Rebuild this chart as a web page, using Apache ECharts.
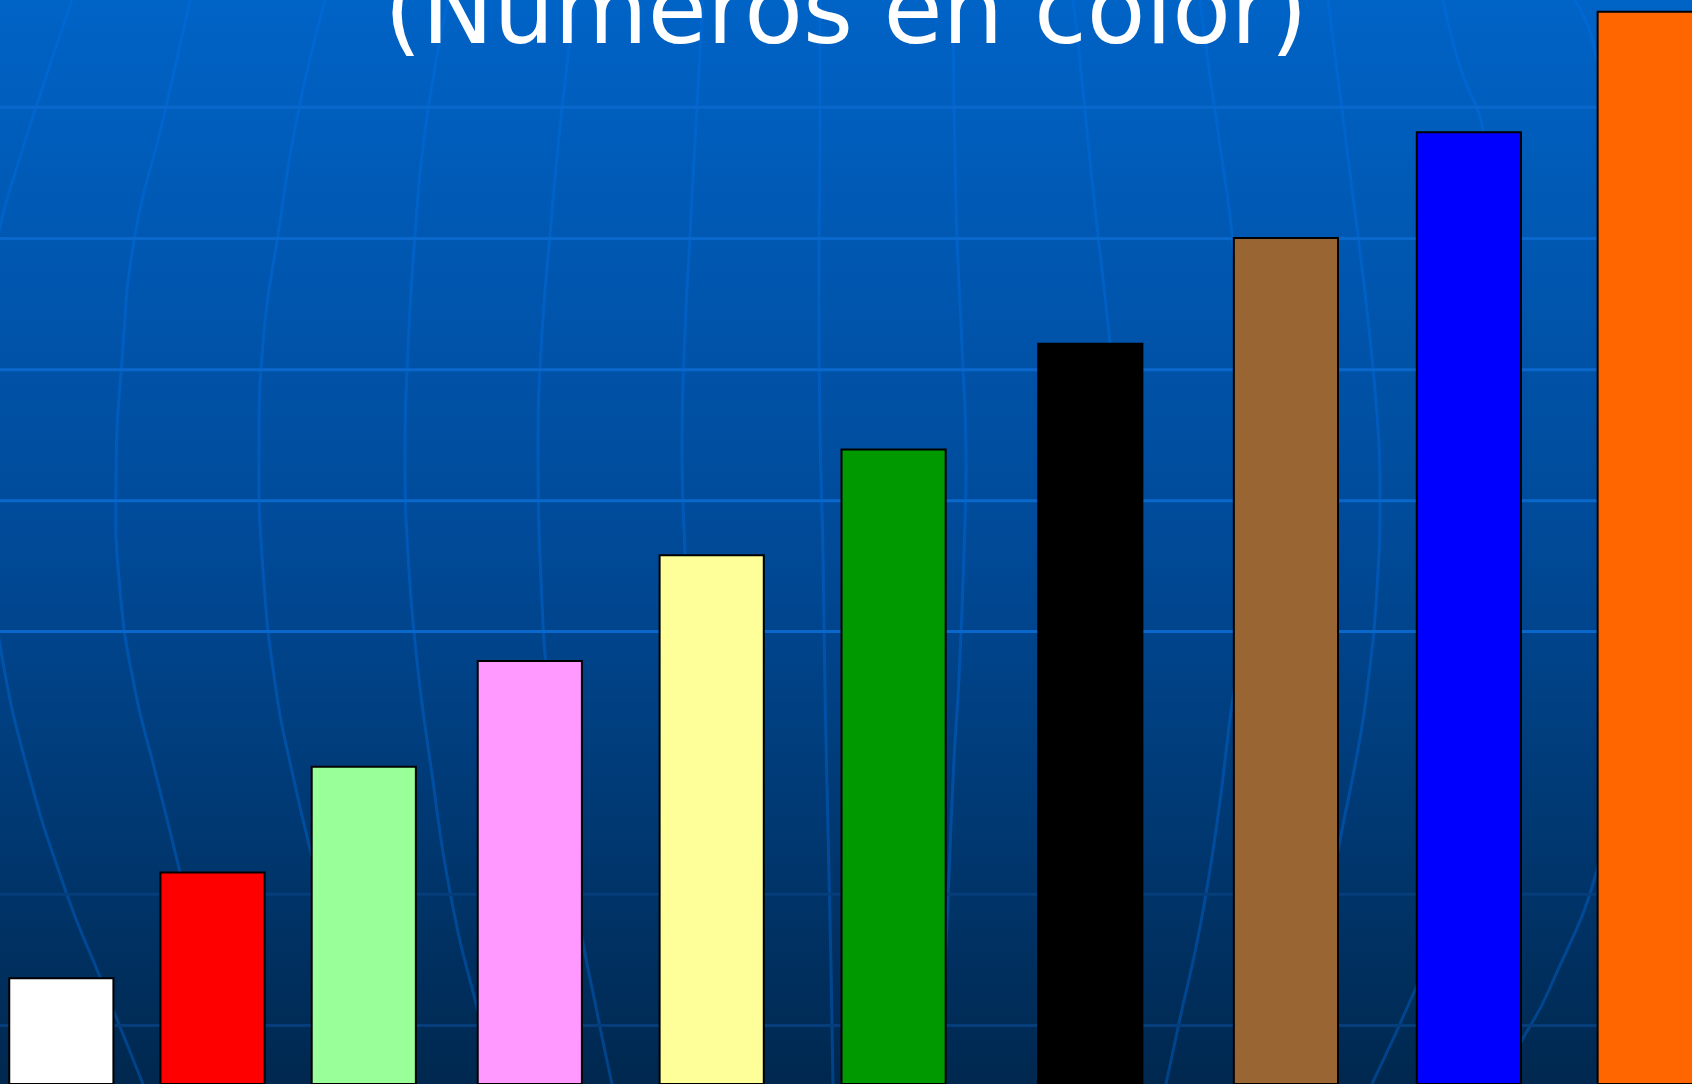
<!DOCTYPE html>
<html lang="es">
<head>
<meta charset="utf-8">
<title>Números en color</title>
<script src="https://cdn.jsdelivr.net/npm/echarts@6/dist/echarts.min.js"></script>
<style>
  html, body { margin: 0; padding: 0; background: #00284f; overflow: hidden; }
  #chart { width: 1692px; height: 1084px; }
</style>
</head>
<body>
<div id="chart"></div>
<script>
// Regletas de Cuisenaire: cada número tiene su color y su longitud en cm
const titulo = '(Números en color)';
const numeros = ['1', '2', '3', '4', '5', '6', '7', '8', '9', '10'];
const nombres = ['blanca', 'roja', 'verde claro', 'rosa', 'amarilla',
                 'verde oscuro', 'negra', 'marrón', 'azul', 'naranja'];
const colores = ['#FFFFFF', '#FF0000', '#99FF99', '#FF99FF', '#FFFF99',
                 '#009900', '#000000', '#996633', '#0000FF', '#FF6600'];
// longitud de cada regleta (cm)
const longitudCm = [1, 2, 3, 4, 5, 6, 7, 8, 9, 10.14];
// dónde está colocada cada regleta sobre la mesa (centro, cm desde la izquierda)
const posicionCm = [0.58, 2.01, 3.44, 5.01, 6.73, 8.45, 10.31, 12.16, 13.89, 15.60];

const ANCHO_CM = 0.985;   // grosor de una regleta

const chart = echarts.init(document.getElementById('chart'), null, { renderer: 'canvas' });
const W = 1692, H = 1084;

// Fondo de la diapositiva: degradado azul con una retícula de globo terráqueo
const paralelos = [107.3, 238.5, 369.8, 500.7, 631.6, 894.2, 1025.4];
const meridianos = [
  [[72,0],[45,80],[17,167],[0,227],[-18,330],[-22,430],[-14,540],[0,645],[25,760],[66,892],[100,977],[143,1084]],
  [[190,0],[162,124],[135,235],[122,360],[116,480],[120,590],[135,690],[154,767],[178,864],[230,1084]],
  [[325,0],[297,118],[278,235],[264,332],[259,450],[263,570],[276,690],[291,767],[313,861],[370,1084]],
  [[448,0],[426,124],[415,235],[408,350],[405,460],[409,570],[418,670],[431,767],[450,892],[477,1007],[500,1084]],
  [[575,0],[561,118],[550,235],[541,350],[538,460],[541,580],[548,690],[560,800],[575,900],[600,1027],[612,1084]],
  [[703,0],[696,124],[690,235],[685,332],[682,450],[685,553],[690,700],[697,850],[705,1084]],
  [[820,0],[820,138],[819,277],[820,429],[823,553],[825,691],[828,830],[831,968],[833,1084]],
  [[953,0],[956,207],[962,346],[966,450],[964,553],[959,678],[954,760],[948,899],[940,1084]],
  [[1073,0],[1078,41],[1093,190],[1110,343],[1125,500],[1130,650],[1120,800],[1100,950],[1080,1084]],
  [[1200,0],[1207,55],[1220,145],[1232,235],[1245,400],[1250,520],[1245,640],[1234,691],[1218,816],[1200,927],[1179,1023],[1166,1084]],
  [[1328,0],[1350,173],[1367,311],[1377,415],[1380,484],[1377,588],[1367,691],[1356,760],[1342,830],[1320,950],[1300,1084]],
  [[1443,0],[1460,67],[1483,130],[1505,300],[1512,480],[1500,700],[1460,880],[1415,990],[1372,1084]],
  [[1575,0],[1593,43],[1620,200],[1640,480],[1630,700],[1600,860],[1549,990],[1522,1040],[1497,1084]]
];

const fondo = [
  {
    type: 'rect', z: -10, silent: true,
    shape: { x: 0, y: 0, width: W, height: H },
    style: {
      fill: new echarts.graphic.LinearGradient(0, 0, 0, 1, [
        { offset: 0, color: '#0063C6' },
        { offset: 0.5, color: '#004A98' },
        { offset: 1, color: '#00284F' }
      ])
    }
  }
];
meridianos.forEach(function (pts) {
  fondo.push({
    type: 'polyline', z: -9, silent: true,
    shape: { points: pts, smooth: 0.5 },
    style: { stroke: 'rgba(0,115,235,0.36)', lineWidth: 3, fill: null }
  });
});
paralelos.forEach(function (y, i) {
  fondo.push({
    type: 'line', z: -8, silent: true,
    shape: { x1: 0, y1: y, x2: W, y2: y },
    style: { stroke: i < 5 ? '#0A68CC' : '#063E7B', lineWidth: 3 }
  });
});
fondo.push({
  type: 'text', z: 100, silent: true,
  style: {
    text: titulo, x: 846, y: 18,
    textAlign: 'center', textVerticalAlign: 'middle',
    font: '96px "DejaVu Sans"', fill: '#FFFFFF'
  }
});

const datos = longitudCm.map(function (v, i) {
  return { value: [posicionCm[i], v], name: numeros[i] + ' · ' + nombres[i], itemStyle: { color: colores[i] } };
});

chart.setOption({
  animation: false,
  graphic: { elements: fondo },
  grid: { left: 0, top: 0, width: W, height: 1086, containLabel: false },
  xAxis: { type: 'value', min: 0, max: 16, show: false },
  yAxis: { type: 'value', min: 0, max: 10.25, show: false },
  series: [{
    type: 'custom',
    name: 'Regletas',
    encode: { x: 0, y: 1 },
    data: datos,
    renderItem: function (params, api) {
      const centro = api.value(0), largo = api.value(1);
      const a = api.coord([centro - ANCHO_CM / 2, largo]);
      const b = api.coord([centro + ANCHO_CM / 2, 0]);
      return {
        type: 'rect',
        shape: { x: a[0], y: a[1], width: b[0] - a[0], height: b[1] - a[1] },
        style: { fill: api.visual('color'), stroke: '#000000', lineWidth: 2 }
      };
    }
  }]
});
</script>
</body>
</html>
